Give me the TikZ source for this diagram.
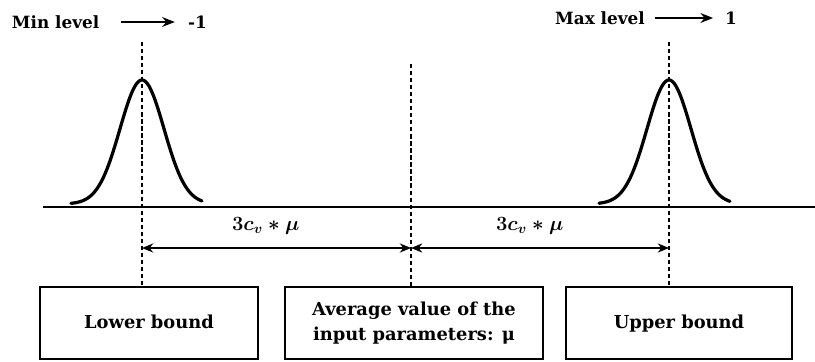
\documentclass[tikz,border=0pt]{standalone}
\usepackage{amsmath}
\usepackage[no-math]{fontspec}
\setmainfont{DejaVu Serif}
\usetikzlibrary{arrows.meta,positioning,calc}

\tikzset{
  bound/.style={draw,line width=1.4pt,minimum height=1.8cm,align=center,
    font=\fontsize{12.7}{18}\selectfont\bfseries},
  oneline/.style={text height=1.55ex,text depth=0pt},
  lvl/.style={font=\fontsize{12}{14}\selectfont\bfseries},
  guide/.style={line width=1.3pt,dash pattern=on 3pt off 2pt},
  bell/.style={line width=2.3pt,line cap=round},
  span/.style={line width=1.3pt,{Stealth[length=8pt,width=6.5pt]}-{Stealth[length=8pt,width=6.5pt]}},
  pointer/.style={line width=1.4pt,-{Stealth[length=9pt,width=7pt]}},
  spanlbl/.style={above=6pt,font=\fontsize{14.5}{16}\selectfont\boldmath}
}

\begin{document}
\begin{tikzpicture}
\useasboundingbox (0,0) rectangle (20.375,9.025);
% axis
\coordinate (axl) at (1.075,3.85);
\coordinate (axr) at (20.375,3.85);
\draw[line width=1pt] (axl) -- (axr);
% the two distributions
\foreach \c/\a/\b in {3.55/-1.775/1.5, 16.725/-1.75/1.525}
  \draw[bell] plot[domain=\a:\b,samples=80,smooth]
    ({\c+\x},{3.925+3.1*exp(-(\x)^2/0.605)});
% boxes
\node[bound,oneline,minimum width=5.45cm] (lower) at (3.725,0.95) {Lower bound};
\node[bound,minimum width=6.45cm] (avg) at (10.35,0.95)
  {Average value of the\\input parameters: μ};
\node[bound,oneline,minimum width=5.65cm] (upper) at (16.975,0.95) {Upper bound};
% dashed guides
\coordinate (lo) at (3.55,7.975);
\coordinate (mid) at (10.275,7.425);
\coordinate (hi) at (16.725,7.975);
\draw[guide] (lo) -- (lo |- lower.north);
\draw[guide] (mid) -- (mid |- avg.north);
\draw[guide] (hi) -- (hi |- upper.north);
% spans
\coordinate (sl) at (3.55,2.825);
\coordinate (sm) at (10.275,2.825);
\coordinate (sr) at (16.725,2.825);
\draw[span] (sl) -- (sm) node[pos=.46,spanlbl] {$3c_v * \mu$};
\draw[span] (sm) -- (sr) node[pos=.46,spanlbl] {$3c_v * \mu$};
% levels
\node[lvl] (minlvl) at (1.39,8.475) {Min level};
\node[lvl] (minval) at (4.94,8.475) {-1};
\draw[pointer,shorten <=12pt,shorten >=6pt] (minlvl) -- (minval);
\node[lvl] (maxlvl) at (15.0,8.575) {Max level};
\node[lvl] (maxval) at (18.275,8.575) {1};
\draw[pointer,shorten <=4pt,shorten >=5pt] (maxlvl) -- (maxval);
\end{tikzpicture}
\end{document}
